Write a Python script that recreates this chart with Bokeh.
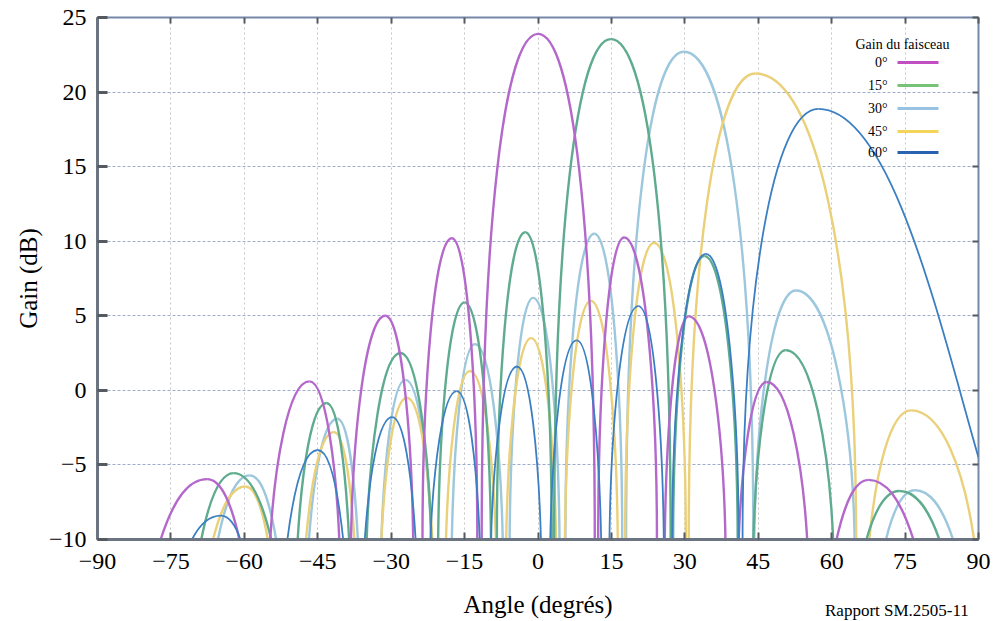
import numpy as np
from bokeh.plotting import figure
from bokeh.models import Range1d, FixedTicker, LinearAxis, Label, BoxAnnotation, ColumnDataSource, Div
from bokeh.layouts import column
from bokeh.embed import file_html
from bokeh.resources import INLINE

# ---------------- data ----------------
x_ticks = [-90, -75, -60, -45, -30, -15, 0, 15, 30, 45, 60, 75, 90]
x_tick_labels = ["−90", "−75", "−60", "−45", "−30", "−15", "0", "15", "30", "45", "60", "75", "90"]
y_ticks = [-10, -5, 0, 5, 10, 15, 20, 25]
y_tick_labels = ["−10", "−5", "0", "5", "10", "15", "20", "25"]
gain_floor = -10.0

beam_names = ["0°", "15°", "30°", "45°", "60°"]

# Each lobe: left foot angle (at the -10 dB floor), peak angle, peak gain, right foot angle
b0_left   = [-77.1, -54.7, -38.2, -23.6, -11.5, 12.3, 25.9, 41.0, 61.0]
b0_peak_x = [-67.6, -46.7, -31.2, -17.6, 0.0, 17.6, 30.8, 46.7, 67.5]
b0_peak_y = [-5.95, 0.6, 5.0, 10.2, 23.9, 10.25, 4.96, 0.56, -6.0]
b0_right  = [-61.0, -40.6, -25.5, -12.4, 11.6, 24.3, 38.3, 55.0, 76.7]

b15_left   = [-68.8, -49.1, -35.0, -20.4, -8.4, 3.3, 27.6, 44.0, 67.1]
b15_peak_x = [-62.2, -43.2, -28.1, -15.0, -2.6, 14.9, 34.0, 50.6, 73.8]
b15_peak_y = [-5.55, -0.85, 2.5, 5.9, 10.6, 23.55, 9.0, 2.7, -6.75]
b15_right  = [-54.5, -38.6, -21.8, -9.6, 2.8, 27.1, 40.8, 60.3, 82.0]

b30_left   = [-65.4, -46.8, -32.0, -17.6, -5.8, 5.6, 18.0, 44.2, 71.1]
b30_peak_x = [-58.9, -41.0, -27.1, -12.9, -1.0, 11.5, 29.8, 52.7, 77.0]
b30_peak_y = [-5.7, -1.9, 0.7, 3.1, 6.2, 10.5, 22.7, 6.7, -6.7]
b30_right  = [-53.5, -36.8, -21.8, -7.2, 4.4, 17.2, 44.0, 64.7, 84.8]

b45_left   = [-66.4, -47.4, -32.0, -18.8, -6.5, 5.5, 17.8, 30.8, 67.7]
b45_peak_x = [-59.8, -41.7, -26.8, -13.9, -1.4, 10.8, 23.7, 44.4, 76.2]
b45_peak_y = [-6.45, -2.8, -0.5, 1.3, 3.5, 6.0, 9.9, 21.25, -1.34]
b45_right  = [-55.2, -37.5, -21.6, -8.6, 3.7, 16.3, 30.2, 65.0, 89.1]

b60_left    = [-70.7, -51.2, -35.4, -22.0, -9.6, 2.5, 14.6, 27.4, 41.8]
b60_peak_x  = [-64.8, -45.0, -29.8, -16.6, -4.3, 7.9, 20.5, 34.3, 57.3]
b60_peak_y  = [-8.4, -4.0, -1.8, -0.05, 1.6, 3.35, 5.65, 9.15, 18.87]
b60_right   = [-60.8, -39.8, -25.0, -11.9, 0.6, 12.9, 25.7, 41.0, 90.0]
b60_right_y = [-10, -10, -10, -10, -10, -10, -10, -10, -4.5]

# ---------------- styling ----------------
curve_colors = {"0°": "#b468cb", "15°": "#5eab8d", "30°": "#9cc7dc", "45°": "#ebd07a", "60°": "#3b7fc3"}
curve_widths = {"0°": 2.4, "15°": 2.4, "30°": 2.4, "45°": 2.4, "60°": 1.8}
legend_colors = {"0°": "#c24fc2", "15°": "#76c276", "30°": "#98c2e2", "45°": "#f2d55a", "60°": "#2a62b0"}
serif = "Liberation Serif"

# shape of a lobe flank as a cubic Bezier, by depth of the flank (dB)
_depths = [4.0, 10.6, 20.0, 34.0]
_c = [0.30, 0.10, 0.00, 0.00]
_a = [0.71, 0.45, 0.50, 0.62]
_b = [0.38, 0.55, 0.60, 0.60]


def flank(xf, yf, xp, yp):
    if yf > gain_floor:  # flank cut by the plot edge, not by the floor
        c, a, b = 0.25, 0.40, 0.45
    else:
        d = yp - yf
        c, a, b = np.interp(d, _depths, _c), np.interp(d, _depths, _a), np.interp(d, _depths, _b)
    return (xf, yf, xp, yp, xf + c * (xp - xf), yf + a * (yp - yf), xp - b * (xp - xf), yp)


def beam_source(left, px, py, right, right_y=None):
    rows = []
    for i in range(len(px)):
        ry = gain_floor if right_y is None else right_y[i]
        rows.append(flank(left[i], gain_floor, px[i], py[i]))
        rows.append(flank(right[i], ry, px[i], py[i]))
    cols = list(zip(*rows))
    return ColumnDataSource(dict(x0=cols[0], y0=cols[1], x1=cols[2], y1=cols[3],
                                 cx0=cols[4], cy0=cols[5], cx1=cols[6], cy1=cols[7]))


beams = {
    "0°": beam_source(b0_left, b0_peak_x, b0_peak_y, b0_right),
    "15°": beam_source(b15_left, b15_peak_x, b15_peak_y, b15_right),
    "30°": beam_source(b30_left, b30_peak_x, b30_peak_y, b30_right),
    "45°": beam_source(b45_left, b45_peak_x, b45_peak_y, b45_right),
    "60°": beam_source(b60_left, b60_peak_x, b60_peak_y, b60_right, b60_right_y),
}

# ---------------- figure ----------------
p = figure(width=995, height=621, x_range=Range1d(-90, 90), y_range=Range1d(-10, 25),
           output_backend="svg", toolbar_location=None,
           min_border_left=97, min_border_right=17, min_border_top=17, min_border_bottom=82)
p.background_fill_color = "white"
p.border_fill_color = "white"
p.outline_line_color = "#7488a8"
p.outline_line_width = 2

for name in ["30°", "45°", "15°", "0°", "60°"]:
    p.bezier(x0="x0", y0="y0", x1="x1", y1="y1", cx0="cx0", cy0="cy0", cx1="cx1", cy1="cy1",
             source=beams[name], line_color=curve_colors[name], line_width=curve_widths[name])

# grids
p.xgrid.ticker = FixedTicker(ticks=x_ticks)
p.ygrid.ticker = FixedTicker(ticks=y_ticks)
p.xgrid.grid_line_color = "#c4c4c4"
p.xgrid.grid_line_dash = "2 3"
p.ygrid.grid_line_color = "#9caccc"
p.ygrid.grid_line_dash = "3 2"

# axes
xa = p.xaxis[0]
ya = p.yaxis[0]
xa.ticker = FixedTicker(ticks=x_ticks)
ya.ticker = FixedTicker(ticks=y_ticks)
xa.major_label_overrides = dict(zip(x_ticks, x_tick_labels))
ya.major_label_overrides = dict(zip(y_ticks, y_tick_labels))
for ax in (xa, ya):
    ax.axis_line_color = "#6b7480"
    ax.axis_line_width = 3
    ax.major_tick_line_color = "#555a60"
    ax.major_tick_out = 0
    ax.minor_tick_line_color = None
    ax.major_label_text_font = serif
    ax.major_label_text_font_size = "24px"
    ax.major_label_text_color = "black"
    ax.axis_label_text_font = serif
    ax.axis_label_text_font_size = "25px"
    ax.axis_label_text_font_style = "normal"
    ax.axis_label_text_color = "black"
xa.major_tick_in = 7
xa.major_tick_line_width = 2
ya.major_tick_in = 10
ya.major_tick_line_width = 3
xa.major_label_standoff = 14
ya.major_label_standoff = 11
xa.axis_label = "Angle (degrés)"
ya.axis_label = "Gain (dB)"
xa.axis_label_standoff = 19
ya.axis_label_standoff = 4

top = LinearAxis(ticker=FixedTicker(ticks=x_ticks), axis_line_color=None,
                 major_tick_in=6, major_tick_out=0, major_tick_line_color="#555a60", major_tick_line_width=2,
                 minor_tick_line_color=None, major_label_text_font_size="1px", major_label_standoff=0,
                 major_label_text_color=None)
right = LinearAxis(ticker=FixedTicker(ticks=y_ticks), axis_line_color=None,
                   major_tick_in=6, major_tick_out=0, major_tick_line_color="#555a60", major_tick_line_width=2,
                   minor_tick_line_color=None, major_label_text_font_size="1px", major_label_standoff=0,
                   major_label_text_color=None)
p.add_layout(top, "above")
p.add_layout(right, "right")

# legend (drawn by hand: label left, swatch right)
p.add_layout(Label(x=805, y=495, x_units="screen", y_units="screen", text="Gain du faisceau",
                   text_align="center", text_baseline="middle", text_font=serif,
                   text_font_size="14px", text_color="black"))
legend_rows_y = [477, 454, 431, 408, 387]
for name, yy in zip(beam_names, legend_rows_y):
    p.add_layout(Label(x=790, y=yy, x_units="screen", y_units="screen", text=name,
                       text_align="right", text_baseline="middle", text_font=serif,
                       text_font_size="14px", text_color="black"))
    p.add_layout(BoxAnnotation(left=800, right=841, bottom=yy - 1.5, top=yy + 1.5,
                               left_units="screen", right_units="screen",
                               bottom_units="screen", top_units="screen",
                               fill_color=legend_colors[name], fill_alpha=1.0, line_color=None))

# source note, bottom right (overlaps the bottom margin of the plot)
note = Div(text="Rapport SM.2505-11", width=165, height=20, margin=(-20, 0, 0, 825),
           styles={"font-family": "'Liberation Serif', serif", "font-size": "17px", "color": "black",
                   "line-height": "20px", "white-space": "nowrap"})

layout = column(p, note, spacing=0)
open("out.html", "w").write(file_html(layout, INLINE))
